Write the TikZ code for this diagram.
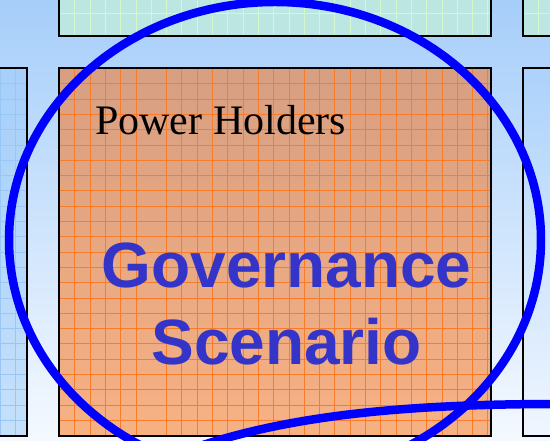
\documentclass[tikz,border=0pt]{standalone}
\usepackage{fontspec}
\setmainfont{Liberation Serif}
\newfontfamily\arialfont{Liberation Sans}
\definecolor{bgtop}{HTML}{A6CEFA}
\definecolor{bgbot}{HTML}{F5F9FF}
\definecolor{ortop}{HTML}{D79F82}
\definecolor{orbot}{HTML}{F7B183}
\definecolor{orgrid}{HTML}{F97C2A}
\definecolor{cyfill}{HTML}{BBE6E1}
\definecolor{cygrid}{HTML}{D4F7CC}
\definecolor{lbtop}{HTML}{A6CFFA}
\definecolor{lbbot}{HTML}{C5E0FB}
\definecolor{lbgrid}{HTML}{98C7F6}
\definecolor{rbtop}{HTML}{ACD2FB}
\definecolor{rbbot}{HTML}{F0F6FF}
\definecolor{govblue}{HTML}{3434C8}
\definecolor{ringblue}{HTML}{0000FF}
\tikzset{
  panel/.style={draw=black, line width=2.4pt},
  ring/.style={draw=ringblue, line width=8.5pt},
  gridline/.style={line width=1pt},
}
\begin{document}
\begin{tikzpicture}[x=1pt,y=1pt]
\useasboundingbox (0,0) rectangle (550,441);
\clip (0,0) rectangle (550,441);
% background
\shade[top color=bgtop, bottom color=bgbot] (0,0) rectangle (550,441);
% top centre panel
\fill[cyfill] (59,405) rectangle (491,452);
\begin{scope}
\clip (59,405) rectangle (491,452);
\foreach \k in {1,...,28} \draw[cygrid, gridline] ({round(59+15.3*\k)+0.5},405) -- ++(0,50);
\foreach \yy in {427.5,442.5} \draw[cygrid, gridline] (59,\yy) -- (491,\yy);
\end{scope}
\draw[panel] (59,452) -- (59,405) -- (491,405) -- (491,452);
% top right panel
\fill[cyfill] (523,405) rectangle (560,452);
\begin{scope}
\clip (523,405) rectangle (560,452);
\draw[cygrid, gridline] (538.5,405) -- (538.5,452);
\foreach \yy in {427.5,442.5} \draw[cygrid, gridline] (523,\yy) -- (560,\yy);
\end{scope}
\draw[panel] (523,452) -- (523,405) -- (560,405);
% left panel
\shade[top color=lbtop, bottom color=lbbot] (-10,5) rectangle (27,373);
\begin{scope}
\clip (-10,5) rectangle (27,373);
\foreach \xx in {0.5,15.5} \draw[lbgrid, gridline] (\xx,5) -- (\xx,373);
\foreach \k in {1,...,24} \draw[lbgrid, gridline] (-10,{440.5-round(68+15.3*\k)}) -- (27,{440.5-round(68+15.3*\k)});
\end{scope}
\draw[panel] (-10,373) -- (27,373) -- (27,5) -- (-10,5);
% right panel
\shade[top color=rbtop, bottom color=rbbot] (523,5) rectangle (560,373);
\draw[panel] (560,373) -- (523,373) -- (523,5) -- (560,5);
% main panel
\shade[top color=ortop, bottom color=orbot] (59,5) rectangle (491,373);
\path (59,5) coordinate (mainSW) (491,373) coordinate (mainNE);
\begin{scope}
\clip (59,5) rectangle (491,373);
\foreach \k in {1,2,3,4,5,7,8,9,10,11,12,13,14,15,16,17,18,19,20,21,22,23,24,25,26,27,28}
  \draw[orgrid, gridline] ({round(59+15.3*\k)+0.5},5) -- ({round(59+15.3*\k)+0.5},373);
\foreach \k in {1,...,23}
  \draw[orgrid, gridline] (59,{440.5-round(68+15.3*\k)}) -- (491,{440.5-round(68+15.3*\k)});
\end{scope}
\draw[panel] (mainSW) rectangle (mainNE);
% texts
\node[anchor=base west, inner sep=0pt, font=\fontsize{42}{48}\selectfont] (power) at (95,306) {Power Holders};
\node[anchor=base, inner sep=0pt, text=govblue, font=\arialfont\bfseries\fontsize{64}{72}\selectfont] (gov) at (286.5,153) {Governance};
\node[anchor=base, inner sep=0pt, text=govblue, font=\arialfont\bfseries\fontsize{64}{72}\selectfont] (scen) at (286.5,76) {Scenario};
% blue curves
\draw[ring] (275,201) ellipse [x radius=266, y radius=238];
\draw[ring] (200,-5) .. controls (300,28) and (420,37) .. (560,37);
\end{tikzpicture}
\end{document}
